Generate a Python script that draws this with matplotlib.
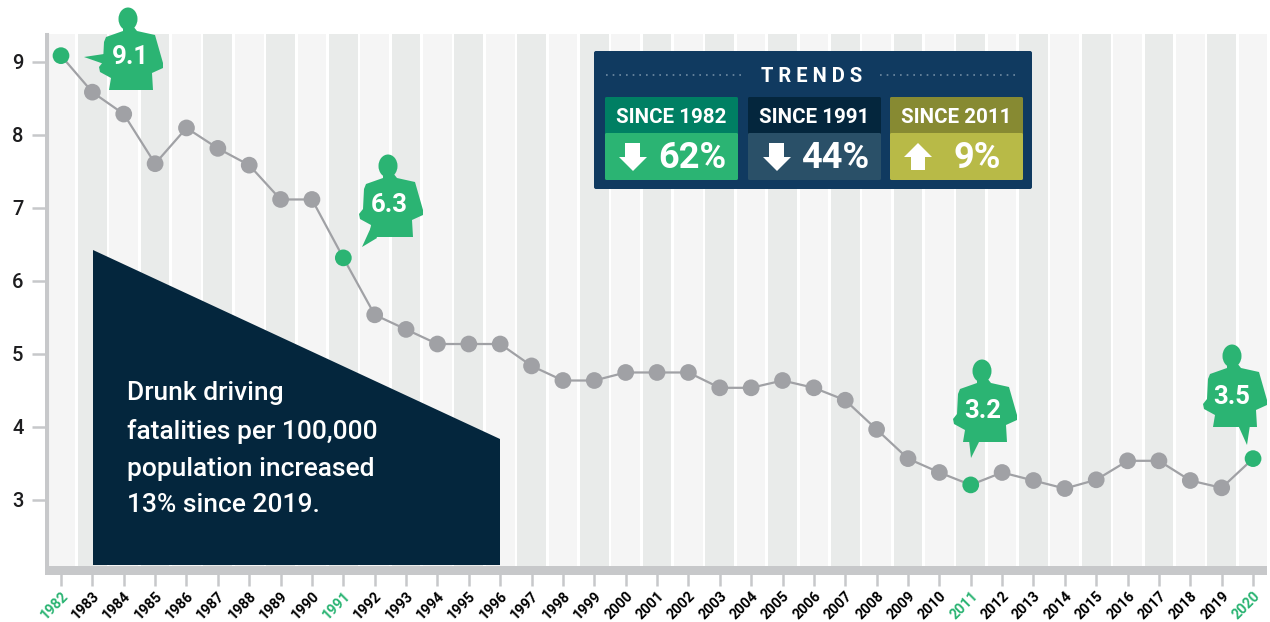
import matplotlib
matplotlib.use("Agg")
import matplotlib.pyplot as plt
from matplotlib.patches import Polygon, Rectangle, Ellipse, FancyBboxPatch

plt.rcParams['font.family'] = ['Roboto', 'DejaVu Sans']

# values
years = list(range(1982, 2021))
rates = [9.08, 8.58, 8.28, 7.6, 8.09, 7.81, 7.58, 7.11, 7.11, 6.31,
         5.53, 5.33, 5.13, 5.13, 5.13, 4.83, 4.63, 4.63, 4.74, 4.74,
         4.74, 4.53, 4.53, 4.63, 4.53, 4.36, 3.96, 3.56, 3.37, 3.2,
         3.37, 3.26, 3.15, 3.27, 3.53, 3.53, 3.26, 3.16, 3.56]
highlight = [1982, 1991, 2011, 2020]
yticks = [3, 4, 5, 6, 7, 8, 9]

callout_text = ['9.1', '6.3', '3.2', '3.5']
story = ['Drunk driving', 'fatalities per 100,000',
         'population increased', '13% since 2019.']
trend_head = ['SINCE 1982', 'SINCE 1991', 'SINCE 2011']
trend_val = ['62%', '44%', '9%']

GREEN = '#2bb473'
GREY = '#a0a1a5'
AXISC = '#c7c8ca'
NAVY = '#04263d'

W, H = 1270, 622
fig = plt.figure(figsize=(W / 100, H / 100), dpi=100)

# plot area in pixels: x 47-1267, y 33-566
ax = fig.add_axes([47 / W, 1 - 566.5 / H, (1267 - 47) / W, (566 - 33) / H])
xstep = 31.37
ystep = 73.0
ax.set_xlim(1982 + (47 - 61) / xstep, 1982 + (1267 - 61) / xstep)
ylo = 3 - (566 - 499) / ystep
yhi = 9 + (61 - 33) / ystep
ax.set_ylim(ylo, yhi)

band_col = ['#e9ebea' if y % 2 else '#f5f5f5' for y in years]
ax.bar(years, [yhi - ylo] * len(years), bottom=ylo, width=0.915, color=band_col, zorder=1)

ax.plot(years, rates, color=GREY, lw=1.6, zorder=2)
pt_col = [GREEN if y in highlight else GREY for y in years]
ax.scatter(years, rates, s=145, c=pt_col, linewidths=0, zorder=3)

for s in ['top', 'right', 'bottom']:
    ax.spines[s].set_visible(False)
ax.spines['left'].set_color(AXISC)
ax.spines['left'].set_linewidth(2.2)

ax.set_yticks(yticks)
ax.set_yticklabels([str(v) for v in yticks], fontsize=14.5, fontweight='medium', color='#1d1d1f')
ax.tick_params(axis='y', length=11, width=1.8, color=AXISC, pad=6)

# slightly under the reference size so the labels stay inside the picture
ax.set_xticks(years)
ax.set_xticklabels([str(y) for y in years], rotation=45, ha='right', va='top',
                   rotation_mode='anchor', fontsize=10.4, fontweight='bold')
ax.tick_params(axis='x', length=14, width=1.8, color=AXISC, pad=2)
for lab, y in zip(ax.get_xticklabels(), years):
    lab.set_color(GREEN if y in highlight else 'black')

# overlay in pixel coordinates for the decoration
ov = fig.add_axes([0, 0, 1, 1], facecolor='none')
ov.set_xlim(0, W)
ov.set_ylim(H, 0)
ov.axis('off')

ov.add_patch(Rectangle((45, 566), 1222, 9, color=AXISC, lw=0))
ov.add_patch(Rectangle((45, 33), 3.2, 535, color=AXISC, lw=0))

# dark wedge with the story
ov.add_patch(Polygon([(93, 250), (500, 439), (500, 565), (93, 565)], color=NAVY, lw=0))
for t, ty in zip(story, [393, 431, 469, 505]):
    ov.text(127, ty, t, color='white', fontsize=19, fontweight='medium', va='center')

# speaker silhouettes
body = [(-5, 8), (-5, 13), (-22, 19), (-24, 24), (-25, 44), (-29, 49), (-28, 54), (-17, 60),
        (-19, 72), (25, 72), (24, 55), (35, 50), (35, 45), (27, 17), (9, 13), (5, 8)]
heads = [(128, 18), (388, 165), (982, 370), (1232, 355)]
text_xy = [(130, 57), (389, 205), (983, 411), (1232, 397)]
pointers = [[(84, 57), (104, 54), (104, 64)],
            [(362, 247), (377, 238), (372, 225)],
            [(971, 458), (969, 440), (980, 440)],
            [(1247, 445), (1238, 425), (1250, 425)]]
for (hx, hy), (tx, ty), p, t in zip(heads, text_xy, pointers, callout_text):
    ov.add_patch(Ellipse((hx, hy + 1), 19, 23, color=GREEN, lw=0))
    ov.add_patch(Polygon([(hx + a, hy + b) for a, b in body], color=GREEN, lw=0))
    ov.add_patch(Polygon(p, color=GREEN, lw=0))
    ov.text(tx, ty, t, color='white', fontsize=18.5, fontweight='bold', ha='center', va='center')

# trends panel
ov.add_patch(FancyBboxPatch((594, 51), 438, 138, boxstyle='round,pad=0,rounding_size=2',
                            color='#103a60', lw=0))
ov.text(812, 76.5, 'T R E N D S', color='white', fontsize=14.5, fontweight='bold', ha='center', va='center')
for x0, x1 in [(606, 746), (880, 1020)]:
    ov.plot([x0, x1], [74.5, 74.5], color='#6f8ba3', lw=1.2, ls=(0, (1, 3)))

box_x = [605, 748, 890]
top_col = ['#007f63', NAVY, '#878a32']
low_col = [GREEN, '#2a5068', '#b8ba47']
val_x = [692, 835, 977]
down = [(6, 0), (21, 0), (21, 14), (28, 14), (14, 28), (0, 14), (6, 14)]
up = [(7, 27), (21, 27), (21, 14), (28, 14), (14, 0), (0, 14), (7, 14)]
arrows = [down, down, up]
arrow_x = [619, 763, 904]
for i in range(3):
    x = box_x[i]
    ov.add_patch(FancyBboxPatch((x, 97), 133, 40, boxstyle='round,pad=0,rounding_size=1.5',
                                color=top_col[i], lw=0))
    ov.add_patch(FancyBboxPatch((x, 133), 133, 47, boxstyle='round,pad=0,rounding_size=1.5',
                                color=low_col[i], lw=0))
    ov.text(x + 66.5, 117.5, trend_head[i], color='white', fontsize=14.8, fontweight='bold',
            ha='center', va='center')
    ov.text(val_x[i], 157.5, trend_val[i], color='white', fontsize=26, fontweight='bold',
            ha='center', va='center')
    ov.add_patch(Polygon([(arrow_x[i] + a, 143 + b) for a, b in arrows[i]], color='white', lw=0))

fig.savefig('out.png', dpi=100, facecolor='white')
